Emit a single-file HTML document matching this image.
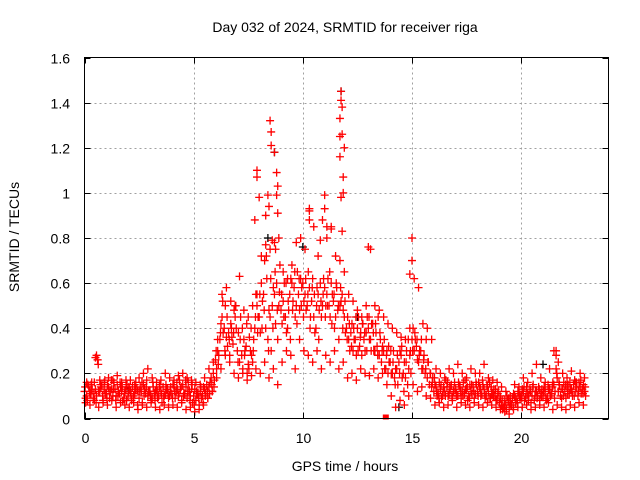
<!DOCTYPE html>
<html><head><meta charset="utf-8"><style>
body{margin:0;background:#fff}
svg{display:block;font-family:"Liberation Sans",sans-serif}
</style></head><body>
<svg id="chart" width="640" height="480" viewBox="0 0 640 480" xmlns="http://www.w3.org/2000/svg">
<rect width="640" height="480" fill="#fff"/>
<text x="345" y="32" font-size="14" text-anchor="middle">Day 032 of 2024, SRMTID for receiver riga</text>
<text transform="translate(19,237) rotate(-90)" font-size="14" text-anchor="middle">SRMTID / TECUs</text>
<text x="345" y="471" font-size="14" text-anchor="middle">GPS time / hours</text>
<g id="grid"></g>
<g id="marks"></g>
<rect x="84.5" y="57.5" width="524" height="361" fill="none" stroke="#000" stroke-width="1"/>
<g id="ticks"></g>
</svg>
<script>
const xTicks=[0,5,10,15,20];
const yTicks=[0,0.2,0.4,0.6,0.8,1,1.2,1.4,1.6];
const yTickLabels=["0","0.2","0.4","0.6","0.8","1","1.2","1.4","1.6"];
const midStep=0.1;
const midVals=[.12,.10,.14,.11,.09,.13,.26,.12,.15,.13,
.11,.14,.12,.10,.13,.15,.11,.12,.09,.13,
.10,.12,.14,.11,.13,.09,.12,.15,.11,.10,
.12,.09,.11,.13,.10,.12,.14,.11,.13,.10,
.11,.14,.12,.10,.13,.15,.11,.09,.12,.13,
.10,.08,.11,.12,.10,.13,.15,.14,.18,.20,
.26,.30,.35,.45,.40,.36,.38,.42,.33,.45,
.30,.25,.28,.35,.32,.24,.30,.25,.40,.50,
.45,.60,.55,.40,.35,.45,.50,.55,.60,.50,
.48,.52,.45,.40,.55,.60,.58,.50,.55,.62,
.60,.55,.50,.58,.52,.45,.40,.55,.60,.50,
.58,.55,.50,.60,.52,.45,.48,.50,.55,.45,
.40,.35,.38,.30,.35,.40,.32,.28,.35,.38,
.40,.35,.42,.30,.32,.28,.25,.30,.22,.20,
.25,.20,.18,.22,.25,.28,.20,.18,.15,.28,
.35,.30,.32,.25,.30,.22,.20,.18,.15,.14,
.12,.14,.11,.13,.10,.12,.14,.11,.15,.12,
.13,.10,.14,.12,.11,.13,.10,.12,.14,.11,
.12,.14,.11,.13,.10,.12,.09,.11,.10,.08,
.07,.06,.05,.06,.08,.07,.09,.10,.08,.11,
.10,.12,.09,.11,.13,.10,.08,.12,.14,.11,
.10,.12,.09,.13,.11,.15,.22,.12,.10,.13,
.12,.14,.11,.13,.15,.12,.10,.14,.13,.12];
const midVals2=[.09,.15,.11,.13,.16,.10,.12,.14,.08,.11,
.15,.09,.13,.16,.10,.12,.14,.08,.12,.15,
.13,.08,.10,.16,.12,.14,.07,.13,.17,.12,
.08,.14,.12,.09,.15,.07,.10,.13,.09,.14,
.15,.09,.13,.17,.08,.11,.14,.16,.10,.07,
.13,.11,.06,.09,.14,.11,.09,.16,.12,.17,
.22,.28,.42,.38,.50,.32,.28,.36,.48,.40,
.38,.45,.22,.30,.20,.36,.28,.35,.55,.45,
.38,.52,.70,.62,.48,.30,.58,.42,.35,.68,
.42,.60,.38,.48,.62,.52,.45,.65,.48,.58,
.52,.48,.65,.45,.62,.38,.58,.48,.45,.62,
.50,.62,.45,.55,.40,.58,.35,.52,.48,.38,
.45,.30,.42,.35,.28,.45,.38,.42,.30,.45,
.35,.42,.30,.38,.45,.35,.32,.22,.30,.25,
.20,.30,.22,.15,.30,.18,.25,.30,.22,.20,
.40,.35,.26,.30,.22,.28,.35,.25,.20,.18,
.15,.10,.16,.09,.14,.17,.10,.13,.09,.16,
.10,.15,.09,.16,.13,.08,.15,.11,.09,.15,
.16,.10,.15,.09,.14,.16,.11,.13,.08,.12,
.09,.04,.08,.10,.05,.06,.11,.07,.12,.09,
.13,.08,.14,.10,.07,.15,.12,.10,.08,.13,
.14,.08,.13,.10,.16,.12,.18,.15,.09,.16,
.09,.15,.13,.10,.17,.14,.16,.11,.15,.10];
const midVals3=[.14,.08,.12,.16,.11,.07,.24,.15,.10,.17,
.09,.12,.17,.13,.08,.10,.16,.14,.11,.08,
.14,.11,.09,.13,.06,.12,.16,.10,.14,.12,
.10,.16,.08,.12,.14,.11,.09,.15,.11,.12,
.09,.12,.16,.11,.14,.10,.17,.12,.08,.15,
.06,.12,.09,.14,.07,.10,.12,.11,.15,.14,
.30,.24,.38,.52,.30,.45,.35,.40,.38,.50,
.25,.35,.40,.28,.42,.22,.40,.30,.45,.38,
.55,.40,.48,.72,.30,.62,.40,.65,.48,.56,
.55,.45,.60,.52,.35,.48,.65,.42,.62,.50,
.45,.62,.55,.40,.58,.55,.50,.35,.52,.55,
.45,.50,.65,.42,.55,.60,.50,.58,.40,.52,
.35,.42,.32,.40,.45,.30,.36,.42,.38,.30,
.45,.30,.38,.42,.28,.38,.30,.35,.28,.32,
.30,.25,.15,.28,.20,.32,.12,.25,.35,.30,
.30,.38,.35,.28,.35,.26,.22,.25,.20,.16,
.18,.12,.09,.15,.12,.10,.16,.14,.10,.13,
.11,.16,.12,.10,.17,.14,.09,.15,.12,.16,
.10,.13,.17,.11,.15,.09,.14,.10,.13,.11,
.10,.08,.06,.04,.09,.06,.05,.09,.07,.10,
.09,.14,.11,.08,.12,.14,.10,.09,.13,.10,
.12,.09,.15,.11,.14,.09,.20,.16,.13,.10,
.15,.11,.16,.12,.10,.16,.12,.17,.11,.14];
const sideStep=0.2;
const lowVals=[.07,.06,.08,.05,.07,.06,.08,.05,.07,.06,
.05,.07,.04,.06,.05,.07,.05,.04,.06,.05,
.06,.05,.07,.04,.05,.03,.04,.06,.09,.12,
.18,.22,.28,.25,.20,.18,.20,.17,.19,.22,
.20,.25,.18,.22,.15,.25,.30,.28,.22,.35,
.30,.28,.25,.30,.22,.28,.25,.30,.22,.25,
.18,.20,.17,.22,.20,.19,.22,.18,.20,.15,
.10,.05,.08,.06,.10,.15,.12,.14,.10,.09,
.06,.07,.05,.06,.08,.05,.07,.06,.05,.07,
.06,.05,.07,.06,.05,.04,.03,.02,.04,.05,
.05,.06,.04,.05,.06,.05,.07,.04,.06,.05,
.04,.06,.05,.07,.06];
const highVals=[.16,.15,.27,.17,.16,.18,.17,.19,.16,.17,
.17,.15,.18,.20,.22,.18,.16,.17,.20,.18,
.17,.19,.20,.18,.17,.16,.15,.18,.22,.25,
.35,.55,.58,.52,.50,.63,.48,.45,.50,.55,
.72,.90,.75,.78,.80,.65,.62,.68,.78,.80,
.75,.92,.85,.72,.88,.80,.85,.72,.70,.65,
.55,.52,.48,.45,.50,.75,.50,.48,.45,.42,
.40,.38,.36,.35,.40,.62,.58,.42,.40,.35,
.22,.20,.18,.22,.20,.24,.20,.18,.22,.20,
.20,.24,.18,.17,.16,.14,.12,.10,.15,.14,
.18,.16,.20,.24,.18,.16,.22,.30,.25,.20,
.18,.21,.16,.20,.18];
const spikeT=[7.9,7.9,8.0,8.4,8.45,8.5,8.55,8.55,8.7,8.8,8.85,8.8,8.85,10.3,10.3,11.0,11.0,11.1,11.75,11.75,11.8,11.7,11.7,11.8,11.9,11.7,11.85,11.85,11.75,11.8,15.0,15.0,14.9,0.6,0.55,13.0,21.6,21.6,8.3,8.6,8.75,7.8,10.8,11.3];
const spikeV=[1.1,1.07,0.98,0.99,0.94,1.32,1.27,1.21,1.18,1.09,1.03,0.99,0.91,0.93,0.88,0.99,0.93,0.85,1.45,1.41,1.38,1.33,1.25,1.26,1.2,1.16,1.07,1.0,0.98,0.83,0.8,0.7,0.64,0.26,0.28,0.76,0.3,0.28,0.77,0.79,0.75,0.88,0.79,0.84];
const blackT=[11.75,8.7,8.4,10.0,12.5,14.4,2.0,21.0,13.3];
const blackV=[1.45,1.18,0.8,0.76,0.45,0.05,0.12,0.24,0.3];

const X0=84.5,X1=608.5,Y0=418.5,Y1=57.5,XMAX=24,YMAX=1.6;
const sx=t=>X0+(X1-X0)*t/XMAX;
const sy=v=>Y0-(Y0-Y1)*v/YMAX;
const NS="http://www.w3.org/2000/svg";
const grid=document.getElementById('grid'),ticks=document.getElementById('ticks'),marks=document.getElementById('marks');
function mk(tag,attrs,parent){const e=document.createElementNS(NS,tag);for(const k in attrs)e.setAttribute(k,attrs[k]);parent.appendChild(e);return e;}
xTicks.forEach(t=>{const x=Math.round(sx(t))+0.5;
 if(t>0){const g=mk('line',{x1:x,x2:x,y1:Y1,y2:Y0,stroke:'#a0a0a0','stroke-dasharray':'2,3'},grid);}
 const a=mk('line',{x1:x,x2:x,y1:Y0,y2:Y0-6,stroke:'#000'},ticks);
 const b=mk('line',{x1:x,x2:x,y1:Y1,y2:Y1+6,stroke:'#000'},ticks);
 const l=mk('text',{x:x,y:443,'font-size':14,'text-anchor':'middle'},ticks);l.textContent=t;});
yTicks.forEach((v,i)=>{const y=Math.round(sy(v))+0.5;
 if(v>0&&v<YMAX){const g=mk('line',{x1:X0,x2:X1,y1:y,y2:y,stroke:'#a0a0a0','stroke-dasharray':'2,3'},grid);}
 const a=mk('line',{x1:X0,x2:X0+6,y1:y,y2:y,stroke:'#000'},ticks);
 const b=mk('line',{x1:X1,x2:X1-6,y1:y,y2:y,stroke:'#000'},ticks);
 const l=mk('text',{x:70,y:y+5,'font-size':14,'text-anchor':'end'},ticks);l.textContent=yTickLabels[i];});
function cross(t,v,col){const x=sx(t),y=sy(v);const p=mk('path',{d:`M${x-4},${y}h8M${x},${y-4}v8`,stroke:col,'stroke-width':1.3,fill:'none'},marks);
 
 }
blackT.forEach((t,i)=>cross(t,blackV[i],'#000'));
midVals.forEach((v,i)=>cross(i*midStep,v,'#f00'));
midVals2.forEach((v,i)=>cross(i*midStep+0.05,v,'#f00'));
midVals3.forEach((v,i)=>cross(i*midStep+0.03,v,'#f00'));
lowVals.forEach((v,i)=>cross(i*sideStep+0.05,v,'#f00'));
highVals.forEach((v,i)=>cross(i*sideStep+0.1,v,'#f00'));
spikeT.forEach((t,i)=>cross(t,spikeV[i],'#f00'));
const sq=mk('rect',{x:sx(13.8)-3,y:Y0-4,width:6,height:5,fill:'#f00'},marks);


</script>
</body></html>
